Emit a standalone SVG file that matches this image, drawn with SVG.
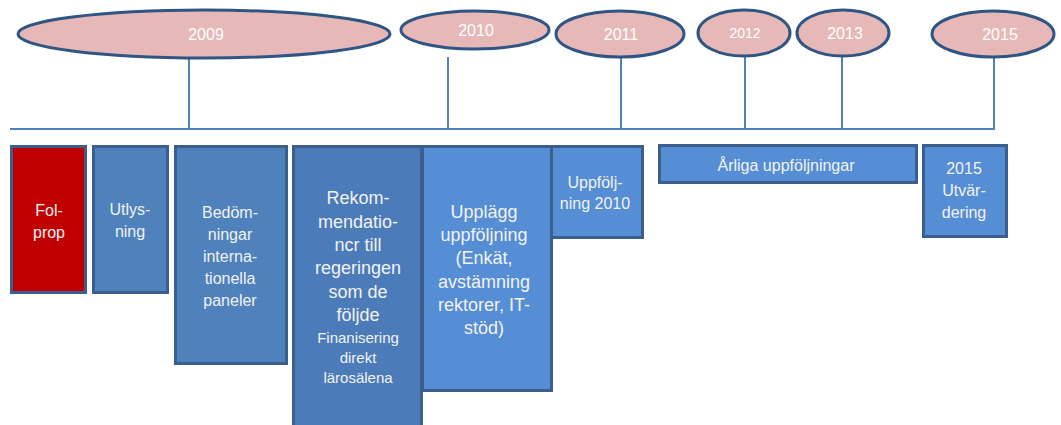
<svg xmlns="http://www.w3.org/2000/svg" width="1061" height="425" viewBox="0 0 1061 425">
<style>
.yr{fill:#E6B9B8;stroke:#2F5585;stroke-width:3}
.yt{font-family:"Liberation Sans",Arial,sans-serif;font-size:16px;fill:#FFFFFF;text-anchor:middle}
.bx{fill:#4F81BD;stroke:#3A5F8E;stroke-width:3}
.bt{font-family:"Liberation Sans",Arial,sans-serif;font-size:16px;fill:#F2F2F2;text-anchor:middle}
.big{font-size:18px}
.sm{font-size:15px}
.cn{stroke:#4F81BD;stroke-width:2;fill:none}
</style>
<rect width="1061" height="425" fill="#FFFFFF"/>
<g id="connectors">
<line class="cn" x1="10" y1="129" x2="995" y2="129"/>
<line class="cn" x1="189" y1="58" x2="189" y2="129"/>
<line class="cn" x1="448" y1="57" x2="448" y2="129"/>
<line class="cn" x1="621" y1="57" x2="621" y2="129"/>
<line class="cn" x1="745" y1="57" x2="745" y2="129"/>
<line class="cn" x1="842" y1="57" x2="842" y2="129"/>
<line class="cn" x1="994" y1="57" x2="994" y2="129"/>
</g>
<g id="y2009"><ellipse class="yr" cx="204" cy="34" rx="186" ry="24"/><text class="yt" x="206" y="40">2009</text></g>
<g id="y2010"><ellipse class="yr" cx="475" cy="30" rx="74" ry="19"/><text class="yt" x="476" y="36">2010</text></g>
<g id="y2011"><ellipse class="yr" cx="620" cy="34" rx="64" ry="23"/><text class="yt" x="621" y="40">2011</text></g>
<g id="y2012"><ellipse class="yr" cx="744" cy="33" rx="46" ry="23"/><text class="yt" x="745" y="38" style="font-size:14px">2012</text></g>
<g id="y2013"><ellipse class="yr" cx="843" cy="33" rx="46" ry="23"/><text class="yt" x="845" y="39">2013</text></g>
<g id="y2015"><ellipse class="yr" cx="993" cy="34" rx="61" ry="23"/><text class="yt" x="1000" y="40">2015</text></g>
<g id="folprop"><rect x="11.5" y="146.5" width="74" height="146" fill="#C00000" stroke="#3A5F8E" stroke-width="3"/>
<text class="bt"><tspan x="49" y="216">Fol-</tspan><tspan x="49" y="238">prop</tspan></text></g>
<g id="utlysning"><rect class="bx" x="93.5" y="146.5" width="74" height="146"/>
<text class="bt"><tspan x="130" y="215">Utlys-</tspan><tspan x="130" y="237">ning</tspan></text></g>
<g id="bedomningar"><rect class="bx" x="175.5" y="146.5" width="111" height="217"/>
<text class="bt"><tspan x="230" y="218">Bedöm-</tspan><tspan x="230" y="240">ningar</tspan><tspan x="230" y="262">interna-</tspan><tspan x="230" y="284">tionella</tspan><tspan x="230" y="306">paneler</tspan></text></g>
<g id="rekommendationer"><rect class="bx" x="293.5" y="146.5" width="128" height="280" style="fill:#4B7CB9"/>
<text class="bt"><tspan class="big" x="358" y="204">Rekom-</tspan><tspan class="big" x="358" y="228">mendatio-</tspan><tspan class="big" x="358" y="251">ncr till</tspan><tspan class="big" x="358" y="274">regeringen</tspan><tspan class="big" x="358" y="298">som de</tspan><tspan class="big" x="358" y="321">följde</tspan><tspan class="sm" x="358" y="343">Finanisering</tspan><tspan class="sm" x="358" y="363">direkt</tspan><tspan class="sm" x="358" y="383">lärosälena</tspan></text></g>
<g id="upplagg"><rect class="bx" x="422.5" y="146.5" width="129" height="244" style="fill:#558ED5"/>
<text class="bt"><tspan class="big" x="484" y="218">Upplägg</tspan><tspan class="big" x="484" y="241">uppföljning</tspan><tspan class="big" x="484" y="264">(Enkät,</tspan><tspan class="big" x="484" y="288">avstämning</tspan><tspan class="big" x="484" y="311">rektorer, IT-</tspan><tspan class="big" x="484" y="334">stöd)</tspan></text></g>
<g id="uppfoljning2010"><rect class="bx" x="551.5" y="146.5" width="91" height="91" style="fill:#558ED5"/>
<text class="bt"><tspan x="595" y="188">Uppfölj-</tspan><tspan x="595" y="209">ning 2010</tspan></text></g>
<g id="arliga"><rect class="bx" x="659.5" y="145.5" width="257" height="37" style="fill:#558ED5"/>
<text class="bt" x="786" y="171">Årliga uppföljningar</text></g>
<g id="utvardering"><rect class="bx" x="923.5" y="145.5" width="83" height="91" style="fill:#558ED5"/>
<text class="bt"><tspan x="964" y="174">2015</tspan><tspan x="964" y="196">Utvär-</tspan><tspan x="964" y="218">dering</tspan></text></g>
</svg>
